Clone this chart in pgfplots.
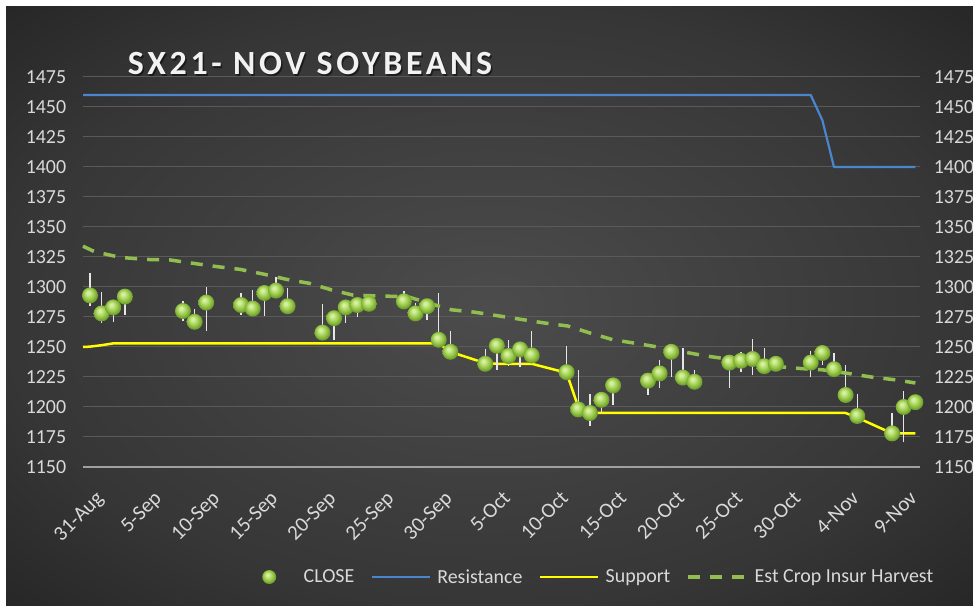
\documentclass[border=0pt]{standalone}
\usepackage{fontspec}
\setmainfont{Carlito}
\newfontfamily\titlefont[LetterSpace=11]{Carlito}
\usepackage{graphicx}
\usepackage{pgfplots}
\usepackage{pgfplotstable}
\pgfplotsset{compat=1.18}

\definecolor{txt}{RGB}{217,217,217}
\definecolor{titlec}{RGB}{242,242,242}
\definecolor{gridc}{RGB}{90,90,90}
\definecolor{axisc}{RGB}{160,160,160}
\definecolor{resc}{RGB}{74,134,206}
\definecolor{supc}{RGB}{255,255,0}
\definecolor{estc}{RGB}{146,190,80}
\definecolor{wickc}{RGB}{230,230,230}
\definecolor{bgin}{RGB}{76,76,76}
\definecolor{bgmid}{RGB}{54,54,54}
\definecolor{bgout}{RGB}{38,38,38}
\definecolor{ballhi}{RGB}{215,240,160}
\definecolor{ballmid}{RGB}{150,200,70}
\definecolor{balldark}{RGB}{85,130,30}

\pgfdeclareradialshading{bgshade}{\pgfpoint{0bp}{0bp}}{color(0bp)=(bgin); color(25bp)=(bgmid); color(36bp)=(bgout); color(50bp)=(bgout)}
\pgfdeclareradialshading{greenball}{\pgfpoint{-7bp}{9bp}}{color(0bp)=(ballhi); color(4bp)=(ballhi); color(17bp)=(ballmid); color(31bp)=(balldark); color(40bp)=(balldark)}
\pgfdeclareplotmark{gball}{%
  \pgfpathcircle{\pgfpointorigin}{\pgfplotmarksize}%
  \pgfshadepath{greenball}{0}%
  \pgfusepath{}%
}

\pgfplotsset{
  lineleg/.style={legend image code/.code={\draw[##1] (0bp,0bp) -- (58bp,0bp);}},
  ballleg/.style={legend image code/.code={\path[draw=none, fill=none] (0bp,-1bp) rectangle (58bp,1bp); \draw[##1, draw=none] plot coordinates {(30bp,0bp)};}},
}
\newcommand{\xl}[2]{\node[anchor=north east, inner sep=0pt, text=txt, font=\fontsize{21}{21}\selectfont] at ([xshift=19bp,yshift=-22bp]axis cs:#1,1150) {\rotatebox{45}{\strut #2}};}

% day index: 0 = 31-Aug
\pgfplotstableread{
d c h l
0 1293 1312 1284
1 1278 1296 1270
2 1283 1289 1271
3 1292 1295 1277
8 1280 1288 1272
9 1271 1282 1266
10 1287 1300 1263
13 1285 1295 1277
14 1282 1297.5 1278
15 1295 1297 1276
16 1297 1308 1292
17 1284 1299 1282
20 1262 1286 1260
21 1274 1278 1256
22 1283 1286 1270
23 1285 1288 1275
24 1286 1288 1283
27 1288 1297 1285
28 1278 1287 1273
29 1284 1287 1272.5
30 1256 1295 1254
31 1246 1263 1244
34 1236 1248 1234
35 1251 1253 1231
36 1242.5 1256 1234
37 1248 1250 1233
38 1243 1263 1241
41 1229 1251 1227
42 1198 1231 1196
43 1195 1211 1184
44 1206 1208 1195
45 1218 1220 1202
48 1222 1224 1210
49 1228 1239 1216
50 1246 1248 1225
51 1224.5 1249 1222
52 1221 1231 1219
55 1237 1239 1216
56 1238.5 1246 1229.5
57 1240 1257 1227
58 1234 1249 1232
59 1236 1238 1234
62 1237 1247 1225
63 1245 1247 1235
64 1231.5 1245 1229
65 1210 1235 1208
66 1192.5 1211 1190
69 1178 1195 1176
70 1200 1213.6 1171
71 1204 1206 1202
}\closedata

\begin{document}
\begin{tikzpicture}
\clip (0bp,0bp) rectangle (973bp,606bp);
\fill[white] (0bp,0bp) rectangle (973bp,606bp);
\shade[shading=bgshade] (6bp,0bp) rectangle (973bp,599bp);

\node[anchor=base, text=black, opacity=0.5, font=\titlefont\bfseries\fontsize{34}{34}\selectfont] at (311.5bp,529.5bp) {SX21- NOV SOYBEANS};
\node[anchor=base, text=titlec, font=\titlefont\bfseries\fontsize{34}{34}\selectfont] at (310bp,531bp) {SX21- NOV SOYBEANS};

\begin{axis}[
  at={(83bp,139bp)}, anchor=south west,
  width=837bp, height=390bp, scale only axis,
  xmin=-0.6, xmax=71.4, ymin=1150, ymax=1475,
  ytick={1150,1175,...,1475},
  xtick={0,5,...,70},
  xticklabels={},
  axis line style={draw=none},
  tick style={draw=none},
  ymajorgrids, grid style={draw=gridc, line width=1bp},
  extra y ticks={1150}, extra y tick labels={},
  extra y tick style={grid style={draw=axisc, line width=2bp}},
  tick label style={font=\fontsize{20}{20}\selectfont, text=txt},
  /pgf/number format/assume math mode=true,
  /pgf/number format/1000 sep={},
  yticklabel style={xshift=-13.3bp},
  clip=false,
  legend columns=4,
  legend style={draw=none, fill=none, inner sep=0pt,
    at={(0.18638,-0.2821)}, anchor=west,
    nodes={inner sep=0bp, text=txt, font=\fontsize{20}{20}\selectfont},
    /tikz/every odd column/.append style={column sep=6.5bp},
    /tikz/every even column/.append style={column sep=16.3bp}},
]
\addlegendimage{only marks, mark=gball, mark size=7bp, ballleg}
\addlegendentry{CLOSE}

\addplot[color=resc, line width=2.2bp, line join=round, lineleg]
coordinates {(-0.6,1460) (0,1460) (62,1460) (63,1439) (64,1400) (71,1400)};
\addlegendentry{Resistance}

\addplot[color=supc, line width=2.5bp, line join=round, lineleg]
coordinates {(-0.6,1250) (0,1250.3) (1,1251.5) (2,1253) (30,1253) (31,1246) (34,1236.5) (35,1236) (38,1236) (41,1228.5) (42,1200) (43,1195) (65,1195) (66,1191.2) (69,1178) (71,1178)};
\addlegendentry{Support}

\addplot[forget plot, draw=none, mark=none,
  error bars/.cd, y dir=both, y explicit, error mark=none,
  error bar style={draw=wickc, line width=1.3bp}]
table[x=d, y=c, y error plus expr=\thisrow{h}-\thisrow{c}, y error minus expr=\thisrow{c}-\thisrow{l}] {\closedata};

\addplot[forget plot, only marks, mark=gball, mark size=8bp]
table[x=d, y=c] {\closedata};

\addplot[color=estc, line width=3.5bp, dash pattern=on 12bp off 10bp, lineleg]
coordinates {(-0.6,1334) (0.4,1329.4) (2.6,1324.7) (4.7,1323) (6.9,1322.5) (8.9,1319.7) (10.9,1317) (12.9,1314.7) (14.9,1310.8) (16.9,1306.4) (18.9,1303) (20.8,1297.5) (22.6,1293.3) (24.7,1292.5) (27.3,1292) (29.2,1286.4) (31.1,1281) (33.1,1279) (35.1,1276) (37.1,1273) (39.1,1270) (41.1,1267.5) (43.1,1261.4) (45,1256) (47,1253) (49,1249.7) (51,1246) (53,1242.5) (57,1237) (59.3,1233.6) (61.2,1232) (63,1231) (65.2,1228) (67.2,1225) (69.4,1222.5) (71,1220)};
\addlegendentry{Est Crop Insur Harvest}

\xl{0}{31-Aug}
\xl{5}{5-Sep}
\xl{10}{10-Sep}
\xl{15}{15-Sep}
\xl{20}{20-Sep}
\xl{25}{25-Sep}
\xl{30}{30-Sep}
\xl{35}{5-Oct}
\xl{40}{10-Oct}
\xl{45}{15-Oct}
\xl{50}{20-Oct}
\xl{55}{25-Oct}
\xl{60}{30-Oct}
\xl{65}{4-Nov}
\xl{70}{9-Nov}
\end{axis}

\begin{axis}[
  at={(83bp,139bp)}, anchor=south west,
  width=837bp, height=390bp, scale only axis,
  xmin=-0.6, xmax=71.4, ymin=1150, ymax=1475,
  ytick={1150,1175,...,1475},
  hide x axis, axis y line*=right,
  y axis line style={draw=none},
  tick style={draw=none},
  tick label style={font=\fontsize{20}{20}\selectfont, text=txt},
  /pgf/number format/assume math mode=true,
  /pgf/number format/1000 sep={},
  yticklabel style={xshift=10.3bp},
]
\addplot[draw=none, mark=none, forget plot] coordinates {(0,1200) (1,1200)};
\end{axis}
\end{tikzpicture}
\end{document}
